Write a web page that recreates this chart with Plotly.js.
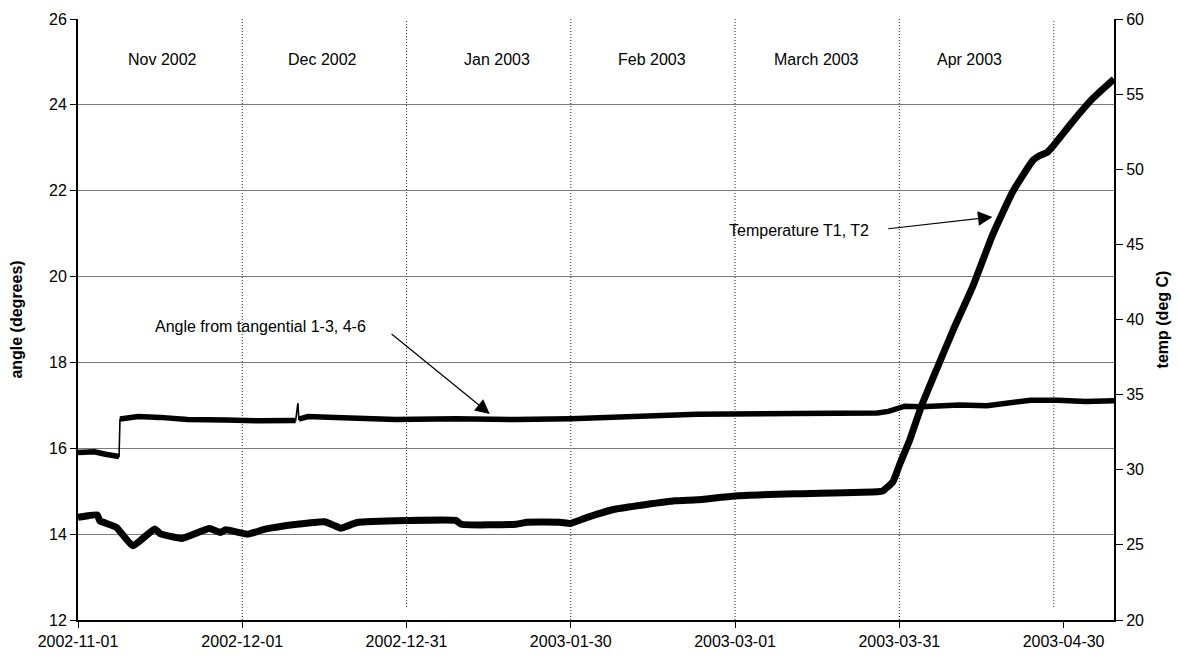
<!DOCTYPE html>
<html>
<head>
<meta charset="utf-8">
<script src="https://cdn.plot.ly/plotly-3.0.1.min.js"></script>
<style>html,body{margin:0;padding:0;background:#fff}#chart{width:1179px;height:655px}</style>
</head>
<body>
<div id="chart"></div>
<script>
// ---- data ----
const angleDates = ['2002-11-01','2002-11-03','2002-11-04','2002-11-06','2002-11-08','2002-11-08 12:00','2002-11-08 16:00','2002-11-12','2002-11-16','2002-11-21','2002-11-28','2002-12-04','2002-12-10 18:00','2002-12-11 04:00','2002-12-11 08:00','2002-12-13','2002-12-18','2002-12-29','2003-01-09','2003-01-20','2003-01-30','2003-02-08','2003-02-22','2003-03-12','2003-03-27','2003-03-29','2003-04-01','2003-04-04','2003-04-11','2003-04-16','2003-04-20','2003-04-24','2003-04-29','2003-05-04','2003-05-09 05:00'];
const angleValues = [15.90,15.90,15.92,15.86,15.82,15.81,16.68,16.74,16.72,16.67,16.66,16.64,16.65,17.05,16.68,16.74,16.72,16.67,16.69,16.67,16.69,16.73,16.79,16.81,16.82,16.86,16.98,16.97,17.01,16.99,17.04,17.12,17.12,17.09,17.11];

const tempDates = ['2002-11-01','2002-11-04 12:00','2002-11-05','2002-11-08','2002-11-11','2002-11-15','2002-11-16','2002-11-20','2002-11-25','2002-11-27','2002-11-28','2002-12-02','2002-12-05','2002-12-11','2002-12-16','2002-12-18','2002-12-19','2002-12-22','2002-12-31','2003-01-09','2003-01-10','2003-01-20','2003-01-22','2003-01-28','2003-01-30','2003-02-02','2003-02-07','2003-02-18','2003-02-22','2003-03-01','2003-03-12','2003-03-27','2003-03-28','2003-03-29 20:00','2003-03-31','2003-04-01 22:00','2003-04-04','2003-04-06 20:00','2003-04-09 20:00','2003-04-13 10:00','2003-04-17','2003-04-20 17:00','2003-04-24 10:00','2003-04-25 14:00','2003-04-26 22:00','2003-04-28 05:00','2003-05-01 17:00','2003-05-05 07:00','2003-05-09 05:00'];
const tempValues = [26.83,27.0,26.6,26.17,24.94,26.06,25.75,25.43,26.09,25.83,26.0,25.71,26.03,26.37,26.54,26.26,26.11,26.49,26.62,26.63,26.37,26.37,26.51,26.51,26.43,26.83,27.37,27.93,28.0,28.26,28.4,28.54,28.6,29.2,30.3,32.0,34.2,36.7,39.3,42.2,45.6,48.5,50.6,50.9,51.1,51.6,53.2,54.7,56.0];

const monthLabels = ['Nov 2002','Dec 2002','Jan 2003','Feb 2003','March 2003','Apr 2003'];
const monthLabelDates = ['2002-11-16 12:00','2002-12-15 17:00','2003-01-16 12:00','2003-02-13 19:00','2003-03-15 22:00','2003-04-12 21:00'];
const monthLineDates = ['2002-12-01','2002-12-31','2003-01-30','2003-03-01','2003-03-31','2003-04-28 05:00'];
const monthLineShort = [false,true,false,false,false,true];

const xStart = '2002-11-01';
const xEnd = '2003-05-09 05:00';

// thick line: break at near-vertical jumps (drawn by the thin line instead)
function breakJumps(xs, ys, thr) {
  const ox = [], oy = [];
  for (let i = 0; i < xs.length; i++) {
    if (i > 0) {
      const dt = (new Date(xs[i].replace(' ', 'T')) - new Date(xs[i-1].replace(' ', 'T'))) / 86400000;
      if (dt < 1 && Math.abs(ys[i] - ys[i-1]) > thr) { ox.push(xs[i]); oy.push(null); }
    }
    ox.push(xs[i]); oy.push(ys[i]);
  }
  return [ox, oy];
}
const [angX, angY] = breakJumps(angleDates, angleValues, 0.3);

const FONT = 'Liberation Sans, Arial, sans-serif';

const traces = [
  {x: angleDates, y: angleValues, type: 'scatter', mode: 'lines', line: {color: '#000', width: 1.6}, yaxis: 'y', hoverinfo: 'skip'},
  {x: angX, y: angY, type: 'scatter', mode: 'lines', connectgaps: false, line: {color: '#000', width: 5.5}, yaxis: 'y', name: 'Angle from tangential 1-3, 4-6'},
  {x: tempDates, y: tempValues, type: 'scatter', mode: 'lines', line: {color: '#000', width: 7, shape: 'spline', smoothing: 0.4}, yaxis: 'y2', name: 'Temperature T1, T2'}
];

const shapes = monthLineDates.map((d, i) => ({
  type: 'line', xref: 'x', yref: 'y', x0: d, x1: d, y0: monthLineShort[i] ? 12.3 : 12, y1: 26,
  line: {color: '#222', width: 1, dash: '1px,2px'}, layer: 'below'
}));

const annotations = monthLabels.map((t, i) => ({
  text: t, xref: 'x', yref: 'paper', x: monthLabelDates[i], y: 0.933, showarrow: false,
  font: {family: FONT, size: 16, color: '#000'}, xanchor: 'center', yanchor: 'middle'
}));
annotations.push(
  {text: 'Angle from tangential 1-3, 4-6', xref: 'x', yref: 'y', x: '2002-12-04 10:00', y: 18.83, showarrow: false,
   font: {family: FONT, size: 16, color: '#000'}, xanchor: 'center', yanchor: 'middle'},
  {text: '', xref: 'x', yref: 'y', x: '2003-01-15 05:00', y: 16.80, axref: 'x', ayref: 'y', ax: '2002-12-28', ay: 18.69,
   showarrow: true, arrowhead: 2, arrowsize: 2.4, arrowwidth: 1.2, arrowcolor: '#000', standoff: 0},
  {text: 'Temperature T1, T2', xref: 'x', yref: 'y', x: '2003-03-12 15:00', y: 21.08, showarrow: false,
   font: {family: FONT, size: 16, color: '#000'}, xanchor: 'center', yanchor: 'middle'},
  {text: '', xref: 'x', yref: 'y', x: '2003-04-17', y: 21.39, axref: 'x', ayref: 'y', ax: '2003-03-28 17:00', ay: 21.11,
   showarrow: true, arrowhead: 2, arrowsize: 2.4, arrowwidth: 1.2, arrowcolor: '#000', standoff: 0}
);

const layout = {
  width: 1179, height: 655, autosize: false,
  margin: {l: 78, r: 65, t: 19, b: 35, pad: 0},
  paper_bgcolor: '#fff', plot_bgcolor: '#fff',
  showlegend: false,
  font: {family: FONT, size: 16, color: '#000'},
  xaxis: {
    type: 'date', range: [xStart, xEnd], tick0: xStart, dtick: 30 * 86400000, tickformat: '%Y-%m-%d',
    ticks: 'outside', ticklen: 6, tickwidth: 1, tickcolor: '#000',
    showline: true, linecolor: '#000', linewidth: 2, showgrid: false, zeroline: false,
    tickfont: {family: FONT, size: 16, color: '#000'}
  },
  yaxis: {
    range: [12, 26], dtick: 2, tick0: 12,
    ticks: 'outside', ticklen: 6, tickwidth: 1, tickcolor: '#000',
    showline: true, linecolor: '#000', linewidth: 2, showgrid: true, gridcolor: '#7a7a7a', gridwidth: 1, zeroline: false,
    tickfont: {family: FONT, size: 16, color: '#000'},
    title: {text: '<b>angle (degrees)</b>', font: {family: FONT, size: 16, color: '#000'}, standoff: 22}
  },
  yaxis2: {
    overlaying: 'y', side: 'right', range: [20, 60], dtick: 5, tick0: 20,
    ticks: 'outside', ticklen: 7, tickwidth: 1, tickcolor: '#000',
    showline: true, linecolor: '#000', linewidth: 2, showgrid: false, zeroline: false,
    tickfont: {family: FONT, size: 16, color: '#000'},
    title: {text: '<b>temp (deg C)</b>', font: {family: FONT, size: 16, color: '#000'}, standoff: 14}
  },
  shapes: shapes,
  annotations: annotations
};

Plotly.newPlot('chart', traces, layout, {staticPlot: true, displayModeBar: false});
</script>
</body>
</html>
